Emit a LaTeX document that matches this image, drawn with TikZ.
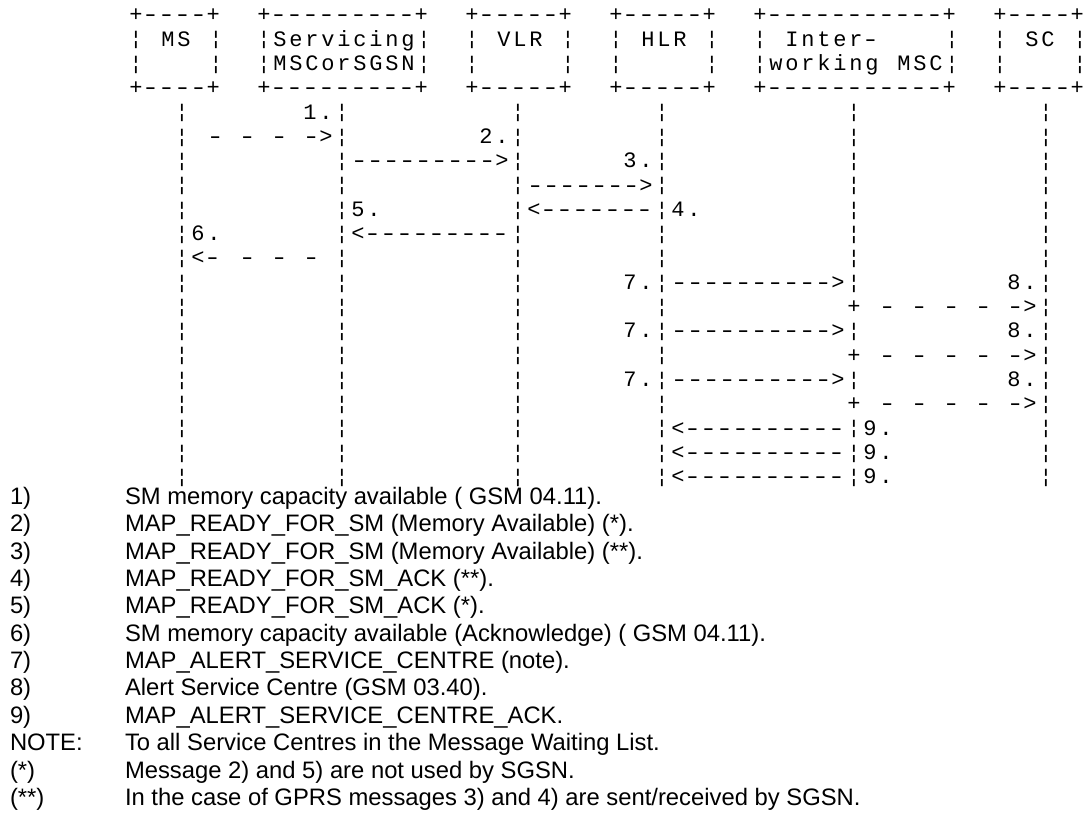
\documentclass[tikz,border=0pt]{standalone}
\usepackage{graphicx}
\usepackage{fontspec}
\setmainfont{Liberation Sans}
\setmonofont{Liberation Mono}[LetterSpace=12.7]
\newcommand\asciifont{\ttfamily\fontsize{22}{24}\selectfont}
\newcommand\notefont{\rmfamily\fontsize{23.8}{27}\selectfont}
\newcommand\brkbar{\scalebox{1}[0.85]{¦}}
% one wide dash filling one 16pt character cell
\newcommand\dsh{\makebox[16pt][c]{\scalebox{1.35}[1]{-}}}
\tikzset{
  mono/.style={anchor=base west, inner sep=0pt, outer sep=0pt, font=\asciifont},
  note/.style={anchor=base west, inner sep=0pt, outer sep=0pt, font=\notefont},
}
% row centre: 15+24.3*row ; column centre: header 136+16*col, lower 150+16*col
\newcommand\hdr[3]{\node[mono] (h#1c#2) at ({129.4+16*#2},{22+24.3*#1}) {#3};}
\newcommand\low[3]{\node[mono] (r#1c#2) at ({143.4+16*#2},{22+24.3*#1}) {#3};}
\newcommand\hdrbar[2]{\node[mono] (hb#1c#2) at ({129.4+16*#2},{20.7+24.3*#1}) {\brkbar};}
\newcommand\lowbar[2]{\node[mono] (lb#1c#2) at ({143.4+16*#2},{20.7+24.3*#1}) {\brkbar};}
\newcommand\fn[3]{%
  \node[note] (fl#1) at (10,{504.5+27.35*#1}) {#2};
  \node[note] (ft#1) at (125,{504.5+27.35*#1}) {#3};}
\newcommand\dfour{\dsh\dsh\dsh\dsh}
\frenchspacing
\begin{document}
\begin{tikzpicture}[x=1pt,y=-1pt]
\useasboundingbox (0,0) rectangle (1090,813);
% ---- boxes ----
\foreach \k in {0,3}{
  \hdr{\k}{0}{+\dfour+}
  \hdr{\k}{8}{+\dfour\dfour\dsh+}
  \hdr{\k}{21}{+\dfour\dsh+}
  \hdr{\k}{30}{+\dfour\dsh+}
  \hdr{\k}{39}{+\dfour\dfour\dsh\dsh\dsh+}
  \hdr{\k}{54}{+\dfour+}
}
\foreach \k in {1,2}{
  \foreach \c in {0,5,8,18,21,27,30,36,39,51,54,59}{
    \hdrbar{\k}{\c}
  }
}
\hdr{1}{2}{MS}
\hdr{1}{9}{Servicing}
\hdr{2}{9}{MSCorSGSN}
\hdr{1}{23}{VLR}
\hdr{1}{32}{HLR}
\hdr{1}{41}{Inter\dsh}
\hdr{2}{40}{working}
\hdr{2}{48}{MSC}
\hdr{1}{56}{SC}
% ---- lifelines ----
\foreach \k in {4,5,6,7,8,9,10,11,12,13,14,15,16,17,18,19}{
  \foreach \c in {2,12,23,32,56}{
    \lowbar{\k}{\c}
  }
}
\foreach \k in {4,5,6,7,8,9,10,11,13,15,17,18,19}{
  \lowbar{\k}{44}
}
% ---- messages ----
\low{4}{10}{1.}
\low{5}{4}{\dsh}
\low{5}{6}{\dsh}
\low{5}{8}{\dsh}
\low{5}{10}{\dsh>}
\low{5}{21}{2.}
\low{6}{13}{\dfour\dfour\dsh>}
\low{6}{30}{3.}
\low{7}{24}{\dfour\dsh\dsh\dsh>}
\low{8}{13}{5.}
\low{8}{24}{<\dfour\dsh\dsh\dsh}
\low{8}{33}{4.}
\low{9}{3}{6.}
\low{9}{13}{<\dfour\dfour\dsh}
\low{10}{3}{<\dsh}
\low{10}{6}{\dsh}
\low{10}{8}{\dsh}
\low{10}{10}{\dsh}
\foreach \k in {11,13,15}{
  \low{\k}{30}{7.}
  \low{\k}{33}{\dfour\dfour\dsh\dsh>}
  \low{\k}{54}{8.}
}
\foreach \k in {12,14,16}{
  \low{\k}{44}{+}
  \low{\k}{46}{\dsh}
  \low{\k}{48}{\dsh}
  \low{\k}{50}{\dsh}
  \low{\k}{52}{\dsh}
  \low{\k}{54}{\dsh>}
}
\foreach \k in {17,18,19}{
  \low{\k}{33}{<\dfour\dfour\dsh\dsh}
  \low{\k}{45}{9.}
}
% ---- notes ----
\fn{0}{1)}{SM memory capacity available ( GSM 04.11).}
\fn{1}{2)}{MAP\_READY\_FOR\_SM (Memory Available) (*).}
\fn{2}{3)}{MAP\_READY\_FOR\_SM (Memory Available) (**).}
\fn{3}{4)}{MAP\_READY\_FOR\_SM\_ACK (**).}
\fn{4}{5)}{MAP\_READY\_FOR\_SM\_ACK (*).}
\fn{5}{6)}{SM memory capacity available (Acknowledge) ( GSM 04.11).}
\fn{6}{7)}{MAP\_ALERT\_SERVICE\_CENTRE (note).}
\fn{7}{8)}{Alert Service Centre (GSM 03.40).}
\fn{8}{9)}{MAP\_ALERT\_SERVICE\_CENTRE\_ACK.}
\fn{9}{NOTE:}{To all Service Centres in the Message Waiting List.}
\fn{10}{(*)}{Message 2) and 5) are not used by SGSN.}
\fn{11}{(**)}{In the case of GPRS messages 3) and 4) are sent/received by SGSN.}
\end{tikzpicture}
\end{document}
